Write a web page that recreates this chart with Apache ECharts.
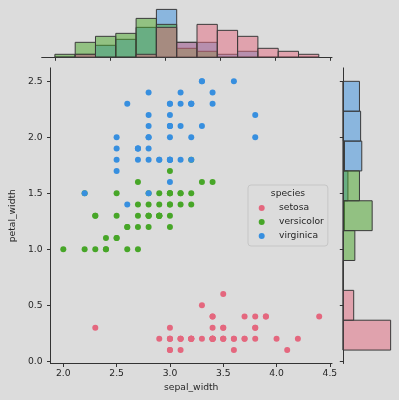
<!DOCTYPE html>
<html>
<head>
<meta charset="utf-8">
<script src="https://cdn.jsdelivr.net/npm/echarts@6/dist/echarts.min.js"></script>
<style>
    html, body { margin: 0; padding: 0; background: #dcdcdc; }
    #chart { width: 399px; height: 400px; }
</style>
</head>
<body>
<div id="chart"></div>
<script>
var species = ['setosa', 'versicolor', 'virginica'];

var setosaSepalWidth = [
    3.5, 3.0, 3.2, 3.1, 3.6, 3.9, 3.4, 3.4, 2.9, 3.1,
    3.7, 3.4, 3.0, 3.0, 4.0, 4.4, 3.9, 3.5, 3.8, 3.8,
    3.4, 3.7, 3.6, 3.3, 3.4, 3.0, 3.4, 3.5, 3.4, 3.2,
    3.1, 3.4, 4.1, 4.2, 3.1, 3.2, 3.5, 3.6, 3.0, 3.4,
    3.5, 2.3, 3.2, 3.5, 3.8, 3.0, 3.8, 3.2, 3.7, 3.3
];
var setosaPetalWidth = [
    0.2, 0.2, 0.2, 0.2, 0.2, 0.4, 0.3, 0.2, 0.2, 0.1,
    0.2, 0.2, 0.1, 0.1, 0.2, 0.4, 0.4, 0.3, 0.3, 0.3,
    0.2, 0.4, 0.2, 0.5, 0.2, 0.2, 0.4, 0.2, 0.2, 0.2,
    0.2, 0.4, 0.1, 0.2, 0.2, 0.2, 0.2, 0.1, 0.2, 0.2,
    0.3, 0.3, 0.2, 0.6, 0.4, 0.3, 0.2, 0.2, 0.2, 0.2
];
var versicolorSepalWidth = [
    3.2, 3.2, 3.1, 2.3, 2.8, 2.8, 3.3, 2.4, 2.9, 2.7,
    2.0, 3.0, 2.2, 2.9, 2.9, 3.1, 3.0, 2.7, 2.2, 2.5,
    3.2, 2.8, 2.5, 2.8, 2.9, 3.0, 2.8, 3.0, 2.9, 2.6,
    2.4, 2.4, 2.7, 2.7, 3.0, 3.4, 3.1, 2.3, 3.0, 2.5,
    2.6, 3.0, 2.6, 2.3, 2.7, 3.0, 2.9, 2.9, 2.5, 2.8
];
var versicolorPetalWidth = [
    1.4, 1.5, 1.5, 1.3, 1.5, 1.3, 1.6, 1.0, 1.3, 1.4,
    1.0, 1.5, 1.0, 1.4, 1.3, 1.4, 1.5, 1.0, 1.5, 1.1,
    1.8, 1.3, 1.5, 1.2, 1.3, 1.4, 1.4, 1.7, 1.5, 1.0,
    1.1, 1.0, 1.2, 1.6, 1.5, 1.6, 1.5, 1.3, 1.3, 1.3,
    1.2, 1.4, 1.2, 1.0, 1.3, 1.2, 1.3, 1.3, 1.1, 1.3
];
var virginicaSepalWidth = [
    3.3, 2.7, 3.0, 2.9, 3.0, 3.0, 2.5, 2.9, 2.5, 3.6,
    3.2, 2.7, 3.0, 2.5, 2.8, 3.2, 3.0, 3.8, 2.6, 2.2,
    3.2, 2.8, 2.8, 2.7, 3.3, 3.2, 2.8, 3.0, 2.8, 3.0,
    2.8, 3.8, 2.8, 2.8, 2.6, 3.0, 3.4, 3.1, 3.0, 3.1,
    3.1, 3.1, 2.7, 3.2, 3.3, 3.0, 2.5, 3.0, 3.4, 3.0
];
var virginicaPetalWidth = [
    2.5, 1.9, 2.1, 1.8, 2.2, 2.1, 1.7, 1.8, 1.8, 2.5,
    2.0, 1.9, 2.1, 2.0, 2.4, 2.3, 1.8, 2.2, 2.3, 1.5,
    2.3, 2.0, 2.0, 1.8, 2.1, 1.8, 1.8, 1.8, 2.1, 1.6,
    1.9, 2.0, 2.2, 1.5, 1.4, 2.3, 2.4, 1.8, 1.8, 2.1,
    2.4, 2.3, 1.9, 2.3, 2.5, 2.3, 1.9, 2.0, 2.3, 1.8
];

var sepalTicks = [2.0, 2.5, 3.0, 3.5, 4.0, 4.5];
var petalTicks = [0.0, 0.5, 1.0, 1.5, 2.0, 2.5];
var sepalBinCount = 13;
var petalBinCount = 9;

var colors = { setosa: '#e4677e', versicolor: '#47a628', virginica: '#378fdf' };
var histColors = {
    setosa: 'rgba(228,103,126,0.5)',
    versicolor: 'rgba(71,166,40,0.5)',
    virginica: 'rgba(55,143,223,0.5)'
};
var sepalBySpecies = { setosa: setosaSepalWidth, versicolor: versicolorSepalWidth, virginica: virginicaSepalWidth };
var petalBySpecies = { setosa: setosaPetalWidth, versicolor: versicolorPetalWidth, virginica: virginicaPetalWidth };

var textColor = '#262626';
var lineColor = '#333333';
var font = 'DejaVu Sans';
var fs = 9.2;

// bins shared by all species, like numpy: edges from the full data range
function makeEdges(arrays, n) {
    var all = [].concat.apply([], arrays);
    var lo = Math.min.apply(null, all), hi = Math.max.apply(null, all);
    var step = (hi - lo) / n, edges = [];
    for (var i = 0; i <= n; i++) { edges.push(i === n ? hi : lo + i * step); }
    return edges;
}
function binValues(values, edges) {
    var n = edges.length - 1, out = [];
    for (var i = 0; i < n; i++) { out.push([edges[i], edges[i + 1], 0]); }
    values.forEach(function (v) {
        for (var i = 0; i < n; i++) {
            if (v >= edges[i] && (v < edges[i + 1] || (i === n - 1 && v <= edges[i + 1]))) {
                out[i][2]++;
                break;
            }
        }
    });
    return out;
}

var sepalEdges = makeEdges([setosaSepalWidth, versicolorSepalWidth, virginicaSepalWidth], sepalBinCount);
var petalEdges = makeEdges([setosaPetalWidth, versicolorPetalWidth, virginicaPetalWidth], petalBinCount);

var topMax = 0, rightMax = 0;
species.forEach(function (s) {
    binValues(sepalBySpecies[s], sepalEdges).forEach(function (b) { topMax = Math.max(topMax, b[2]); });
    binValues(petalBySpecies[s], petalEdges).forEach(function (b) { rightMax = Math.max(rightMax, b[2]); });
});

function topRender(color) {
    return function (params, api) {
        var p0 = api.coord([api.value(0), api.value(2)]);
        var p1 = api.coord([api.value(1), 0]);
        return {
            type: 'rect',
            shape: { x: p0[0], y: p0[1], width: p1[0] - p0[0], height: p1[1] - p0[1] },
            style: { fill: color, stroke: '#3a3a3a', lineWidth: 1 }
        };
    };
}
function rightRender(color) {
    return function (params, api) {
        var p0 = api.coord([0, api.value(1)]);
        var p1 = api.coord([api.value(2), api.value(0)]);
        return {
            type: 'rect',
            shape: { x: p0[0], y: p0[1], width: p1[0] - p0[0], height: p1[1] - p0[1] },
            style: { fill: color, stroke: '#3a3a3a', lineWidth: 1 }
        };
    };
}

var series = [];
// scatter in data order
species.forEach(function (s) {
    var pts = sepalBySpecies[s].map(function (x, i) { return [x, petalBySpecies[s][i]]; });
    series.push({
        name: s, type: 'scatter', xAxisIndex: 0, yAxisIndex: 0,
        symbolSize: 6, itemStyle: { color: colors[s], opacity: 1 },
        data: pts, z: 3
    });
});
// layered histograms, first level on top
species.slice().reverse().forEach(function (s) {
    series.push({
        name: s + '_top', type: 'custom', xAxisIndex: 1, yAxisIndex: 1,
        renderItem: topRender(histColors[s]),
        encode: { x: [0, 1], y: 2 },
        data: binValues(sepalBySpecies[s], sepalEdges)
    });
    series.push({
        name: s + '_right', type: 'custom', xAxisIndex: 2, yAxisIndex: 2,
        renderItem: rightRender(histColors[s]),
        encode: { x: 2, y: [0, 1] },
        data: binValues(petalBySpecies[s], petalEdges)
    });
});

function fmt(v) { return v.toFixed(1); }

var sepalMin = 1.88, sepalMax = 4.52, petalMin = -0.02, petalMax = 2.62;

var chart = echarts.init(document.getElementById('chart'), null, { renderer: 'canvas' });
chart.setOption({
    animation: false,
    backgroundColor: '#dcdcdc',
    textStyle: { fontFamily: font },
    grid: [
        { left: 41.7, top: 67.9, width: 290.3, height: 295.6 },
        { left: 41.7, top: 7, width: 290.3, height: 50.3 },
        { left: 343.3, top: 67.9, width: 49.7, height: 295.6 }
    ],
    xAxis: [
        {
            type: 'value', gridIndex: 0, min: sepalMin, max: sepalMax,
            name: 'sepal_width', nameLocation: 'middle', nameGap: 17,
            nameTextStyle: { color: textColor, fontSize: fs, fontFamily: font },
            axisLine: { show: true, onZero: false, lineStyle: { color: lineColor, width: 1 } },
            axisTick: { show: true, length: 3.5, customValues: sepalTicks, lineStyle: { color: lineColor } },
            axisLabel: { show: true, customValues: sepalTicks, formatter: fmt, color: textColor, fontSize: fs, margin: 5.5 },
            splitLine: { show: false }
        },
        {
            type: 'value', gridIndex: 1, min: sepalMin, max: sepalMax,
            axisLine: { show: true, onZero: false, lineStyle: { color: lineColor, width: 1 } },
            axisTick: { show: true, length: 3.5, customValues: sepalTicks, lineStyle: { color: lineColor } },
            axisLabel: { show: false },
            splitLine: { show: false }
        },
        {
            type: 'value', gridIndex: 2, min: 0, max: rightMax * 1.05, show: false,
            splitLine: { show: false }
        }
    ],
    yAxis: [
        {
            type: 'value', gridIndex: 0, min: petalMin, max: petalMax,
            name: 'petal_width', nameLocation: 'middle', nameGap: 24, nameRotate: 90,
            nameTextStyle: { color: textColor, fontSize: fs, fontFamily: font },
            axisLine: { show: true, onZero: false, lineStyle: { color: lineColor, width: 1 } },
            axisTick: { show: true, length: 3.5, customValues: petalTicks, lineStyle: { color: lineColor } },
            axisLabel: { show: true, customValues: petalTicks, formatter: fmt, color: textColor, fontSize: fs, margin: 8 },
            splitLine: { show: false }
        },
        {
            type: 'value', gridIndex: 1, min: 0, max: topMax * 1.05, show: false,
            splitLine: { show: false }
        },
        {
            type: 'value', gridIndex: 2, min: petalMin, max: petalMax,
            axisLine: { show: true, onZero: false, lineStyle: { color: lineColor, width: 1 } },
            axisTick: { show: true, length: 3.5, customValues: petalTicks, lineStyle: { color: lineColor } },
            axisLabel: { show: false },
            splitLine: { show: false }
        }
    ],
    legend: {
        data: species,
        orient: 'vertical',
        left: 248, top: 185,
        icon: 'circle',
        itemWidth: 6, itemHeight: 6, itemGap: 0,
        padding: [16, 4, 3, 10.7],
        backgroundColor: '#dcdcdc',
        borderColor: '#c6c6c6', borderWidth: 1, borderRadius: 3,
        textStyle: { color: textColor, fontSize: fs, fontFamily: font, lineHeight: 14, padding: [0, 0, 0, 9.3] },
        selectedMode: false
    },
    graphic: [{
        type: 'text', x: 288, y: 194, z: 100,
        style: {
            text: 'species', fill: textColor,
            font: fs + 'px "' + font + '"', textAlign: 'center', textVerticalAlign: 'middle'
        }
    }],
    series: series
});
</script>
</body>
</html>
